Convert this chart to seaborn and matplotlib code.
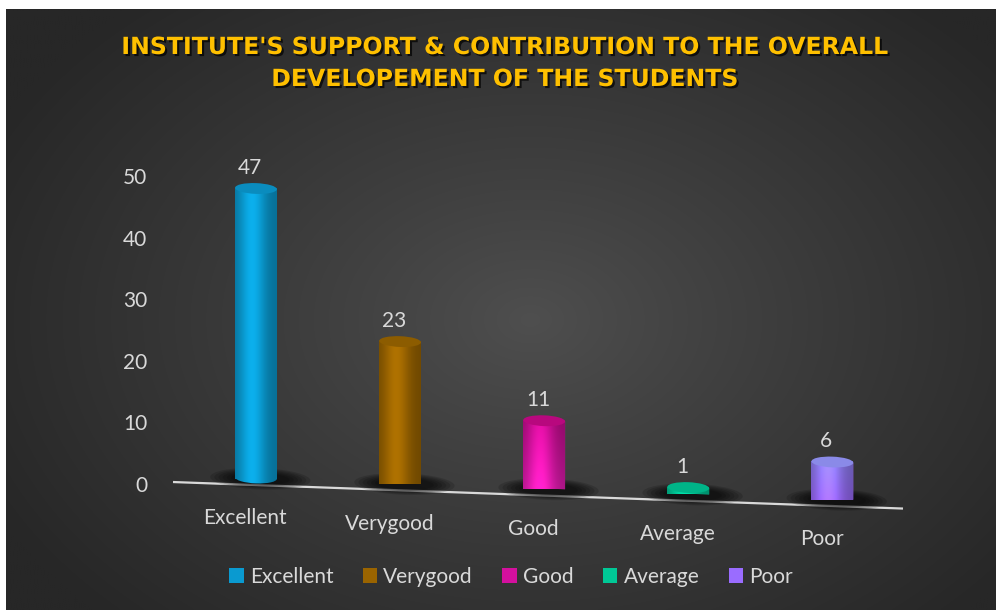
import numpy as np
import matplotlib
matplotlib.use("Agg")
import matplotlib.pyplot as plt
import matplotlib.transforms as mtransforms
import matplotlib.patheffects as pe
from matplotlib.patches import Ellipse, Patch
from matplotlib.colors import to_rgb
import pandas as pd
import seaborn as sns

# ---- data -------------------------------------------------------------
categories = ["Excellent", "Verygood", "Good", "Average", "Poor"]
responses = [47, 23, 11, 1, 6]
y_ticks = [0, 10, 20, 30, 40, 50]
title_lines = ["INSTITUTE'S SUPPORT & CONTRIBUTION TO THE OVERALL",
               "DEVELOPEMENT OF THE STUDENTS"]

# ---- styling ----------------------------------------------------------
body_top = ["#0a9ad0", "#9a6400", "#c40a8c", "#00c094", "#8c86f2"]
body_bottom = ["#0a9ad0", "#9a6400", "#f020be", "#00c896", "#a064ff"]
cap_colors = ["#0a8cbe", "#8c5c00", "#b8087e", "#00b488", "#8a8ae8"]
legend_colors = ["#0a9ad0", "#9a6400", "#d4109e", "#00c896", "#9a6cff"]
text_color = "#d9d9d9"
font_size = 15

sns.set_style("white")
plt.rcParams["font.family"] = ["Lato", "DejaVu Sans"]

W, H = 996, 610
fig = plt.figure(figsize=(W / 100, H / 100), dpi=100)
fig.patch.set_facecolor("white")

# dark radial-gradient chart background
bg = fig.add_axes([6 / W, 0, (W - 6) / W, (H - 9) / H], zorder=0)
bg.axis("off")
gx = np.linspace(6, W, 500)
gy = np.linspace(9, H, 300)
GX, GY = np.meshgrid(gx, gy)
r = np.sqrt(((GX - 530) / 600) ** 2 + ((GY - 320) / 420) ** 2)
t = np.clip(r, 0, 1)[..., None] ** 0.9
inner = np.array(to_rgb("#4f4f4f"))
outer = np.array(to_rgb("#272727"))
bg.imshow(inner * (1 - t) + outer * t, extent=[0, 1, 0, 1], origin="upper",
          aspect="auto", interpolation="bilinear")
bg.set_xlim(0, 1)
bg.set_ylim(0, 1)

# plotting axes
ax = fig.add_axes([173 / W, (H - 484) / H, 730 / W, 308 / H], zorder=1)
ax.patch.set_alpha(0)

df = pd.DataFrame({"Rating": categories, "Students": responses})
sns.barplot(data=df, x="Rating", y="Students", hue="Rating",
            palette=legend_colors, width=0.29, saturation=1, legend=False,
            errorbar=None, ax=ax, zorder=3)

xl, xr = -0.576, 4.49
slope = 0.85


def floor_shear(offset):
    """Perspective floor: y drops as x moves to the right."""
    m = np.array([[1.0, 0.0, 0.0],
                  [-slope, 1.0, slope * xl + offset],
                  [0.0, 0.0, 1.0]])
    return mtransforms.Affine2D(m) + ax.transData


T_bar = floor_shear(1.46)
T_line = floor_shear(0.32)

# floor edge line
ax.plot([xl, xr], [0, 0], color=text_color, lw=1.6, transform=T_line,
        clip_on=False, zorder=2, solid_capstyle="butt")

cap_h = 1.75


def shade_image(top, bottom, n=60):
    u = np.linspace(0, 1, n)
    shade = 0.72 + 0.42 * np.exp(-((u - 0.42) / 0.28) ** 2)
    v = np.linspace(0, 1, n)[:, None, None]
    base = np.array(to_rgb(top)) * (1 - v) + np.array(to_rgb(bottom)) * v
    return np.clip(base * shade[None, :, None], 0, 1)


for i, p in enumerate(ax.patches):
    x0, w, h = p.get_x(), p.get_width(), p.get_height()
    xc = x0 + w / 2
    p.set_transform(T_bar)
    p.set_clip_on(False)
    p.set_edgecolor("none")
    p.set_facecolor(body_bottom[i])

    # soft floor shadow
    for k in range(6):
        sh = Ellipse((xc + 0.03, -0.1), w * (2.4 - 0.2 * k), cap_h * (2.0 - 0.18 * k),
                     transform=T_bar, facecolor="black", edgecolor="none",
                     alpha=0.15, zorder=2.2, clip_on=False)
        ax.add_patch(sh)

    img = shade_image(body_top[i], body_bottom[i])

    # rounded foot of the cylinder (same shading as the body)
    foot = Ellipse((xc, 0), w, cap_h, transform=T_bar, facecolor="none",
                   edgecolor="none", zorder=3.0, clip_on=False)
    ax.add_patch(foot)
    foot_img = ax.imshow(np.repeat(img[-1:], 8, axis=0),
                         extent=[x0 - 0.02, x0 + w + 0.02, -cap_h, cap_h],
                         origin="upper", aspect="auto", interpolation="bilinear",
                         zorder=3.05, transform=T_bar)
    foot_img.set_clip_path(foot)

    # shaded cylinder body; the image overhangs the bar and is clipped to it
    body = ax.imshow(img, extent=[x0 - 0.02, x0 + w + 0.02, -cap_h, h + cap_h],
                     origin="upper", aspect="auto", interpolation="bilinear",
                     zorder=3.2, transform=T_bar)
    body.set_clip_path(p)

    cap = Ellipse((xc, h), w, cap_h, transform=T_bar, facecolor=cap_colors[i],
                  edgecolor="none", zorder=3.5, clip_on=False)
    ax.add_patch(cap)

    ax.text(xc - 0.042, h + 3.3, f"{responses[i]}", transform=T_bar,
            ha="center", va="center", color=text_color, fontsize=font_size,
            clip_on=False, zorder=4)
    ax.text(xc - 0.075, -6.6, categories[i], transform=T_bar,
            ha="center", va="center", color=text_color, fontsize=font_size,
            clip_on=False, zorder=4)

ax.set_xlim(xl, xr)
ax.set_ylim(0, 50)
ax.set_yticks(y_ticks)
ax.set_yticklabels([str(v) for v in y_ticks])
ax.tick_params(axis="y", length=0, pad=18.5, labelsize=font_size,
               labelcolor=text_color)
ax.set_xticks([])
ax.set_xlabel("")
ax.set_ylabel("")
for s in ax.spines.values():
    s.set_visible(False)

handles = [Patch(facecolor=c, edgecolor="none", label=l)
           for c, l in zip(legend_colors, categories)]
leg = fig.legend(handles=handles, loc="center", ncol=5,
                 bbox_to_anchor=(511 / W, (H - 577) / H), frameon=False,
                 fontsize=font_size, handlelength=0.7, handleheight=0.7,
                 handletextpad=0.3, columnspacing=1.4, labelcolor=text_color)

title_effects = [pe.SimplePatchShadow(offset=(1.5, -1.5), shadow_rgbFace="black",
                                      alpha=0.7),
                 pe.Normal()]
for k, line in enumerate(title_lines):
    fig.text(505 / W, 1 - (47 + 32 * k) / H, line, ha="center", va="center",
             color="#ffc000", fontsize=17, fontweight="bold",
             family=["DejaVu Sans"], path_effects=title_effects)

fig.savefig("out.png", dpi=100)
